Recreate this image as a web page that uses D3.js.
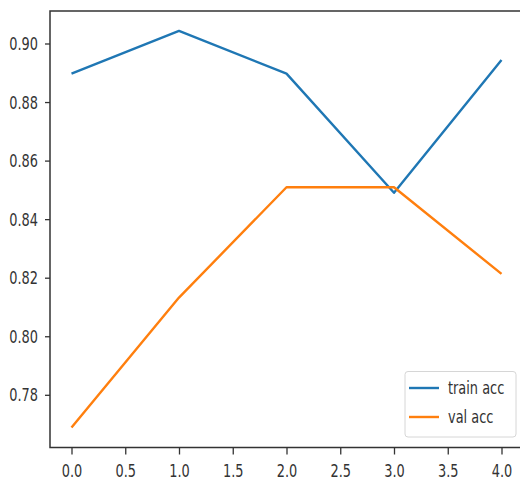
<!DOCTYPE html>
<html><head><meta charset="utf-8">
<script src="https://cdn.jsdelivr.net/npm/d3@7"></script>
<style>body{margin:0;background:#fff;} text{font-family:"DejaVu Sans",sans-serif;}</style>
</head><body>
<svg id="c" width="520" height="481"></svg>
<script>
const epochs = [0, 1, 2, 3, 4];
const trainAcc = [0.8897, 0.9043, 0.8897, 0.8490, 0.8944];
const valAcc = [0.7688, 0.8132, 0.8509, 0.8509, 0.8213];
const xTicks = [0, 0.5, 1, 1.5, 2, 2.5, 3, 3.5, 4];
const yTicks = [0.78, 0.80, 0.82, 0.84, 0.86, 0.88, 0.90];
const seriesNames = ["train acc", "val acc"];
const colors = ["#1f77b4", "#ff7f0e"];

const svg = d3.select("#c");
const L = 50, R = 523, T = 11, B = 447.5;
const x = d3.scaleLinear().domain([-0.2, 4.2]).range([L, R]);
const y = d3.scaleLinear().domain([0.7620, 0.9111]).range([B, T]);
const SX = 0.76, FS = 17;

const line = d3.line().x((d, i) => x(epochs[i])).y(d => y(d));
[trainAcc, valAcc].forEach((s, k) => {
  svg.append("path").datum(s).attr("d", line).attr("fill", "none")
    .attr("stroke", colors[k]).attr("stroke-width", 2.4).attr("stroke-linejoin", "round");
});

// spines
svg.append("rect").attr("x", L).attr("y", T).attr("width", R - L).attr("height", B - T)
  .attr("fill", "none").attr("stroke", "#333").attr("stroke-width", 1.5);

// y axis
const ya = svg.append("g").attr("transform", `translate(${L},0)`)
  .call(d3.axisLeft(y).tickValues(yTicks).tickSize(5).tickFormat(d3.format(".2f")));
ya.select(".domain").remove();
ya.selectAll(".tick line").attr("stroke", "#333").attr("stroke-width", 1.3);
ya.selectAll(".tick text").attr("font-size", FS).attr("fill", "#333")
  .attr("font-family", "DejaVu Sans").attr("x", 0).attr("dy", "0.35em")
  .attr("transform", `translate(-12,0) scale(${SX},1)`);

// x axis
const xa = svg.append("g").attr("transform", `translate(0,${B})`)
  .call(d3.axisBottom(x).tickValues(xTicks).tickSize(7).tickFormat(d3.format(".1f")));
xa.select(".domain").remove();
xa.selectAll(".tick line").attr("stroke", "#333").attr("stroke-width", 1.3);
xa.selectAll(".tick text").attr("font-size", FS).attr("fill", "#333")
  .attr("font-family", "DejaVu Sans").attr("y", 0).attr("dy", "0.71em")
  .attr("transform", `translate(0,17) scale(${SX},1)`);

// legend
const lg = svg.append("g");
lg.append("rect").attr("x", 405).attr("y", 371.5).attr("width", 111).attr("height", 65.5)
  .attr("rx", 3).attr("fill", "#fff").attr("fill-opacity", 0.85)
  .attr("stroke", "#d6d6d6").attr("stroke-width", 1);
seriesNames.forEach((n, k) => {
  const yy = 388 + k * 29;
  lg.append("line").attr("x1", 409).attr("x2", 439).attr("y1", yy).attr("y2", yy)
    .attr("stroke", colors[k]).attr("stroke-width", 2.4);
  lg.append("text").text(n).attr("font-size", FS).attr("fill", "#333")
    .attr("dy", "0.35em").attr("transform", `translate(448,${yy}) scale(${SX},1)`);
});
</script>
</body></html>
